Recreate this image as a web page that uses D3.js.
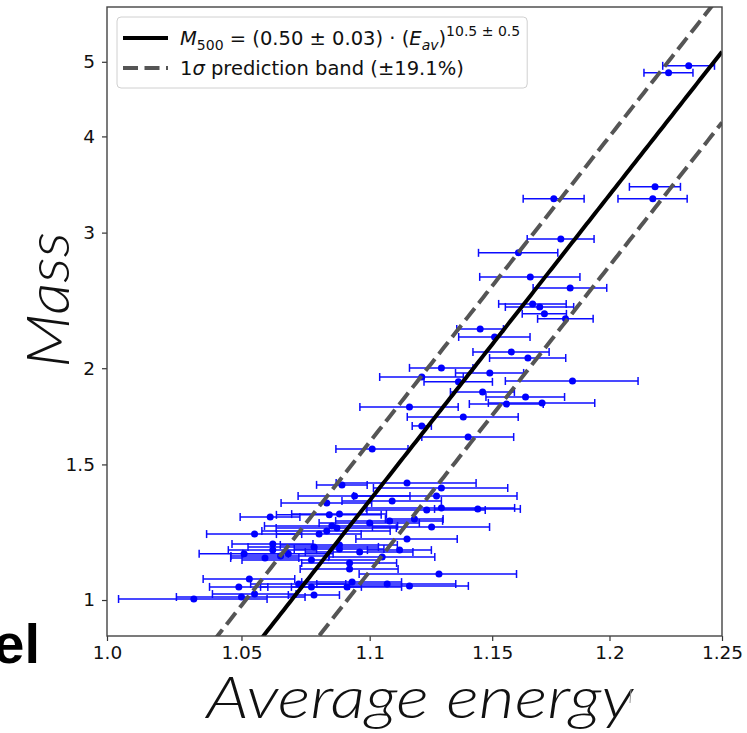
<!DOCTYPE html>
<html>
<head>
<meta charset="utf-8">
<script src="https://cdn.jsdelivr.net/npm/d3@7"></script>
<style>
  html, body { margin: 0; padding: 0; background: #fff; overflow: hidden; }
  text { font-family: "DejaVu Sans", sans-serif; }
</style>
</head>
<body>
<script>
// data: average energy (with x error) and mass
var energy = [1.235, 1.226, 1.220, 1.219, 1.176, 1.179, 1.161, 1.166, 1.183, 1.167,
  1.170, 1.172, 1.181, 1.145, 1.151, 1.158, 1.165, 1.129, 1.149, 1.121,
  1.136, 1.184, 1.146, 1.164, 1.116, 1.156, 1.171, 1.138, 1.121, 1.140,
  1.101, 1.089, 1.115, 1.129, 1.094, 1.127, 1.083, 1.109, 1.123, 1.129,
  1.144, 1.084, 1.088, 1.108, 1.118, 1.100, 1.085, 1.087, 1.125, 1.083,
  1.080, 1.115, 1.078, 1.088, 1.112, 1.096, 1.088, 1.105, 1.077, 1.092,
  1.092, 1.128, 1.093, 1.107, 1.116, 1.077, 1.091, 1.078, 1.061, 1.055,
  1.062, 1.062, 1.051, 1.059, 1.065, 1.068, 1.053, 1.049, 1.072, 1.055,
  1.050, 1.032];

var energyErr = [0.0116, 0.0109, 0.0113, 0.0153, 0.0130, 0.0143, 0.0167, 0.0212, 0.0158, 0.0143,
  0.0145, 0.0094, 0.0119, 0.0097, 0.0149, 0.0160, 0.0161, 0.0130, 0.0142, 0.0170,
  0.0141, 0.0285, 0.0133, 0.0166, 0.0199, 0.0155, 0.0226, 0.0229, 0.0039, 0.0190,
  0.0144, 0.0100, 0.0283, 0.0275, 0.0222, 0.0334, 0.0178, 0.0200, 0.0241, 0.0304,
  0.0178, 0.0206, 0.0187, 0.0215, 0.0117, 0.0200, 0.0262, 0.0237, 0.0239, 0.0252,
  0.0166, 0.0205, 0.0255, 0.0231, 0.0129, 0.0214, 0.0177, 0.0213, 0.0268, 0.0188,
  0.0194, 0.0322, 0.0198, 0.0279, 0.0241, 0.0197, 0.0218, 0.0100, 0.0115, 0.0182,
  0.0156, 0.0170, 0.0170, 0.0131, 0.0190, 0.0175, 0.0175, 0.0111, 0.0185, 0.0160,
  0.0245, 0.0278];

var mass = [4.94, 4.84, 3.44, 3.32, 3.32, 2.944, 2.824, 2.628, 2.543, 2.424,
  2.402, 2.353, 2.318, 2.249, 2.196, 2.100, 2.062, 2.002, 1.972, 1.948,
  1.920, 1.925, 1.863, 1.835, 1.781, 1.797, 1.803, 1.729, 1.683, 1.628,
  1.571, 1.411, 1.419, 1.398, 1.365, 1.365, 1.337, 1.345, 1.309, 1.317,
  1.313, 1.290, 1.293, 1.267, 1.274, 1.259, 1.248, 1.240, 1.244, 1.229,
  1.218, 1.200, 1.172, 1.179, 1.161, 1.154, 1.165, 1.137, 1.127, 1.117,
  1.097, 1.081, 1.055, 1.049, 1.043, 1.040, 1.040, 1.015, 1.282, 1.218,
  1.182, 1.161, 1.148, 1.134, 1.141, 1.148, 1.065, 1.040, 1.049, 1.018,
  1.009, 1.003];

// power-law fit M = amp * E^slope, band +-19.1%
var fitAmp = 0.495, fitSlope = 10.5, bandFrac = 0.191;

var xTicks = [1.0, 1.05, 1.1, 1.15, 1.2, 1.25];
var xTickLabels = ["1.0", "1.05", "1.1", "1.15", "1.2", "1.25"];
var yTicks = [1, 1.5, 2, 3, 4, 5];
var yTickLabels = ["1", "1.5", "2", "3", "4", "5"];

var margin = { top: 7, right: 25, bottom: 97, left: 107 },
    width = 747 - margin.left - margin.right,
    height = 733 - margin.top - margin.bottom;

var svg = d3.select("body").append("svg")
    .attr("width", 747)
    .attr("height", 733);

var g = svg.append("g")
    .attr("transform", "translate(" + margin.left + "," + margin.top + ")");

var x = d3.scaleLog().domain([1.0, 1.25]).range([0, width]);
var y = d3.scaleLog().domain([0.898, 5.89]).range([height, 0]);

g.append("clipPath").attr("id", "clip")
  .append("rect").attr("width", width).attr("height", height);

var points = energy.map(function (e, i) {
    return { e: e, err: energyErr[i], m: mass[i] };
});

// error bars
var bars = g.append("g").attr("clip-path", "url(#clip)")
    .selectAll("g").data(points).enter().append("g")
    .style("stroke", "#0c0cff")
    .style("stroke-width", 1.5);

bars.append("line")
    .attr("x1", function (d) { return x(d.e - d.err); })
    .attr("x2", function (d) { return x(d.e + d.err); })
    .attr("y1", function (d) { return y(d.m); })
    .attr("y2", function (d) { return y(d.m); });
bars.append("line")
    .attr("x1", function (d) { return x(d.e - d.err); })
    .attr("x2", function (d) { return x(d.e - d.err); })
    .attr("y1", function (d) { return y(d.m) - 4; })
    .attr("y2", function (d) { return y(d.m) + 4; });
bars.append("line")
    .attr("x1", function (d) { return x(d.e + d.err); })
    .attr("x2", function (d) { return x(d.e + d.err); })
    .attr("y1", function (d) { return y(d.m) - 4; })
    .attr("y2", function (d) { return y(d.m) + 4; });

g.append("g").selectAll("circle")
    .data(points).enter().append("circle")
    .attr("cx", function (d) { return x(d.e); })
    .attr("cy", function (d) { return y(d.m); })
    .attr("r", 3.5)
    .attr("fill", "#0000ff");

// fit and band
var eGrid = d3.range(0, 201).map(function (i) { return 1.0 + 0.25 * i / 200; });
function fitLine(f) {
    return d3.line()
        .x(function (e) { return x(e); })
        .y(function (e) { return y(f * fitAmp * Math.pow(e, fitSlope)); })(eGrid);
}
var lines = g.append("g").attr("clip-path", "url(#clip)");
lines.append("path").attr("d", fitLine(1 + bandFrac))
    .attr("fill", "none").attr("stroke", "#555").attr("stroke-width", 4)
    .attr("stroke-dasharray", "15,6.5");
lines.append("path").attr("d", fitLine(1 - bandFrac))
    .attr("fill", "none").attr("stroke", "#555").attr("stroke-width", 4)
    .attr("stroke-dasharray", "15,6.5");
lines.append("path").attr("d", fitLine(1))
    .attr("fill", "none").attr("stroke", "#000").attr("stroke-width", 4);

// axes
var xAxis = g.append("g")
    .attr("transform", "translate(0," + height + ")")
    .call(d3.axisBottom(x).tickValues(xTicks)
        .tickFormat(function (d, i) { return xTickLabels[i]; })
        .tickSize(5).tickPadding(5));
var yAxis = g.append("g")
    .call(d3.axisLeft(y).tickValues(yTicks)
        .tickFormat(function (d, i) { return yTickLabels[i]; })
        .tickSize(5).tickPadding(7));
[xAxis, yAxis].forEach(function (a) {
    a.select(".domain").remove();
    a.selectAll("line").attr("stroke", "#333").attr("stroke-width", 1.2);
    a.selectAll("text").style("font-family", "DejaVu Sans").style("font-size", "18.5px").attr("fill", "#111");
});

g.append("rect")
    .attr("width", width).attr("height", height)
    .attr("fill", "none").attr("stroke", "#444").attr("stroke-width", 1.4);

// legend
var leg = g.append("g").attr("transform", "translate(10,10)");
var legBox = leg.append("rect")
    .attr("height", 71).attr("rx", 4)
    .attr("fill", "rgba(255,255,255,0.85)").attr("stroke", "#d0d0d0");
leg.append("line").attr("x1", 6).attr("x2", 51).attr("y1", 21).attr("y2", 21)
    .attr("stroke", "#000").attr("stroke-width", 4);
leg.append("line").attr("x1", 6).attr("x2", 51).attr("y1", 51).attr("y2", 51)
    .attr("stroke", "#555").attr("stroke-width", 4).attr("stroke-dasharray", "15,6.5");

var t1 = leg.append("text").attr("x", 63).attr("y", 28).style("font-size", "19.5px").attr("fill", "#111");
t1.append("tspan").style("font-style", "italic").text("M");
t1.append("tspan").attr("dy", 5).style("font-size", "14px").text("500");
t1.append("tspan").attr("dy", -5).text(" = (0.50 ± 0.03) · (");
t1.append("tspan").style("font-style", "italic").text("E");
t1.append("tspan").attr("dy", 5).style("font-size", "14px").style("font-style", "italic").text("av");
t1.append("tspan").attr("dy", -5).text(")");
t1.append("tspan").attr("dy", -9).style("font-size", "14px").text("10.5 ± 0.5");

var t2 = leg.append("text").attr("x", 63).attr("y", 58).style("font-size", "19.5px").attr("fill", "#111");
t2.append("tspan").text("1");
t2.append("tspan").style("font-style", "italic").text("σ");
t2.append("tspan").text(" prediction band (±19.1%)");

var legW = Math.max(t1.node().getBBox().x + t1.node().getBBox().width,
                    t2.node().getBBox().x + t2.node().getBBox().width) + 7;
legBox.attr("width", legW);

// axis titles
svg.append("text")
    .attr("x", 420).attr("y", 718)
    .attr("text-anchor", "middle")
    .attr("textLength", 427).attr("lengthAdjust", "spacingAndGlyphs")
    .style("font-family", "Lato, 'Open Sans', sans-serif")
    .style("font-weight", 300).style("font-style", "italic")
    .style("font-size", "58px").attr("fill", "#111")
    .text("Average energy");

svg.append("text")
    .attr("transform", "translate(69,300) rotate(-90)")
    .attr("text-anchor", "middle")
    .attr("textLength", 136).attr("lengthAdjust", "spacingAndGlyphs")
    .style("font-family", "Lato, 'Open Sans', sans-serif")
    .style("font-weight", 300).style("font-style", "italic")
    .style("font-size", "60px").attr("fill", "#111")
    .text("Mass");

// clipped title from neighbouring panel
svg.append("text")
    .attr("x", 40).attr("y", 663)
    .attr("text-anchor", "end")
    .style("font-family", "'Liberation Sans', sans-serif")
    .style("font-weight", "bold").style("font-size", "56px")
    .attr("fill", "#000")
    .text("Model");

svg.append("line")
    .attr("x1", 631).attr("x2", 630).attr("y1", 689).attr("y2", 703)
    .attr("stroke", "#999").attr("stroke-width", 1);
</script>
</body>
</html>
